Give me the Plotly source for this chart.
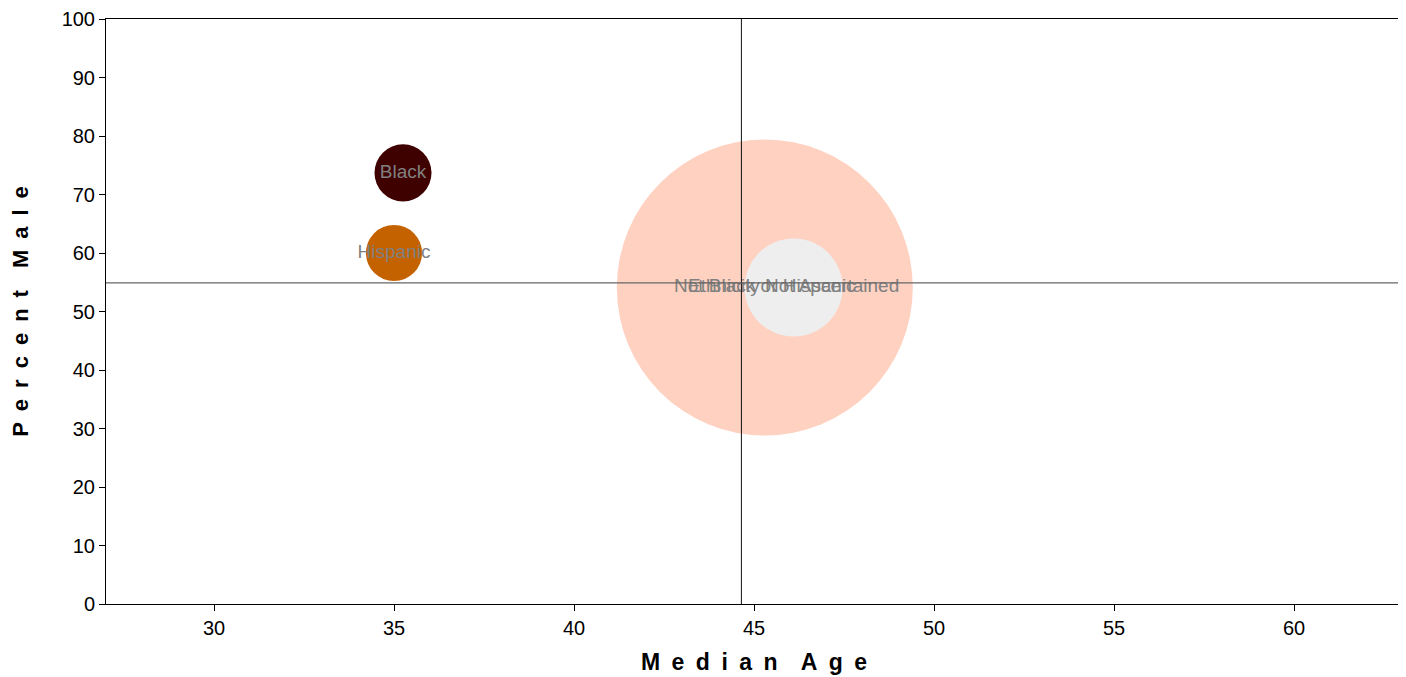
import plotly.graph_objects as go

groups = ["Not Black or Hispanic", "Ethnicity Not Ascertained", "Black", "Hispanic"]
median_age = [45.3, 46.1, 35.25, 35.0]
percent_male = [54.1, 54.1, 73.7, 60.0]
population = [17500, 1920, 650, 630]
colors = ["#ffd1c1", "#eeeeee", "#3f0000", "#c46200"]

ref_age = 44.65
ref_male = 54.9

fig = go.Figure()
for g, a, m, p, c in zip(groups, median_age, percent_male, population, colors):
    fig.add_trace(go.Scatter(
        x=[a], y=[m], mode="markers",
        marker=dict(size=[p], sizemode="area", sizeref=0.3995, color=c, opacity=1,
                    line=dict(width=0)),
        opacity=1, name=g, showlegend=False, hovertext=[g], hoverinfo="text"))
fig.add_trace(go.Scatter(
    x=median_age, y=percent_male, mode="text", text=groups, textposition="middle center",
    textfont=dict(family="Arial, Liberation Sans", size=19, color="#808080"),
    showlegend=False, hoverinfo="skip"))

fig.add_vline(x=ref_age, line=dict(color="#111111", width=1), layer="above")
fig.add_hline(y=ref_male, line=dict(color="#666666", width=1.2), layer="above")


def spaced(s):
    return "\u2002\u2002".join("\u2002".join(w) for w in s.split(" "))


axis_font = dict(family="Arial, Liberation Sans", size=20, color="black")
title_font = dict(family="Arial, Liberation Sans", size=23, color="black")
fig.update_layout(
    width=1398, height=669,
    margin=dict(l=98, r=4, t=11, b=73),
    plot_bgcolor="white", paper_bgcolor="white",
    xaxis=dict(range=[27, 63], tickvals=[30, 35, 40, 45, 50, 55, 60], showgrid=False, zeroline=False,
               showline=True, mirror=True, linecolor="black", linewidth=1, automargin=False,
               ticks="outside", ticklen=6, tickcolor="black", tickfont=axis_font,
               title=dict(text="<b>" + spaced("Median Age") + "</b>", standoff=15, font=title_font)),
    yaxis=dict(range=[0, 100], tickvals=list(range(0, 101, 10)), showgrid=False, zeroline=False,
               showline=True, mirror=True, linecolor="black", linewidth=1, automargin=False,
               ticks="outside", ticklen=6, tickcolor="black", tickfont=axis_font,
               title=dict(text="<b>" + spaced("Percent Male") + "</b>", standoff=27,
                          font=dict(family="Arial, Liberation Sans", size=22, color="black"))),
)
fig.write_html("out.html")
